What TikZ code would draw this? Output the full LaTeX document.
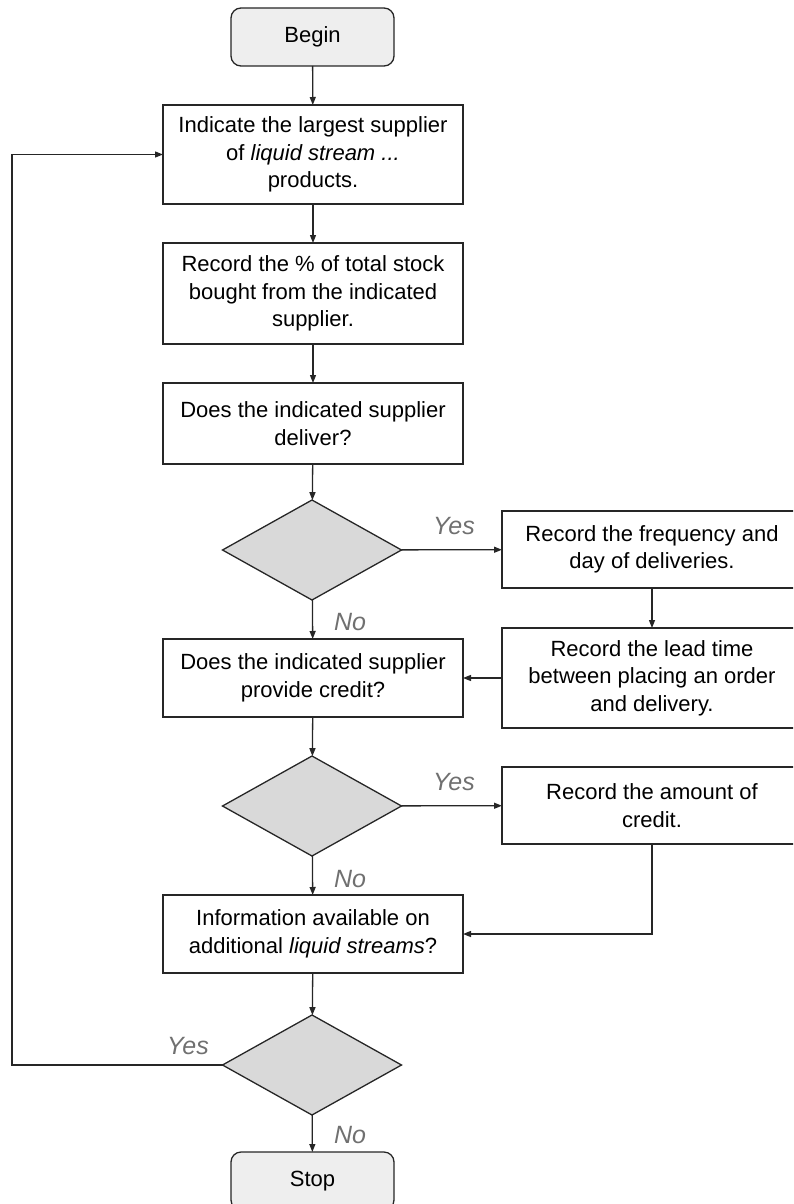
\documentclass[tikz,border=0pt]{standalone}
\usepackage{fontspec}
\setmainfont{Liberation Sans}
\usetikzlibrary{shapes.geometric,arrows.meta}
\definecolor{termfill}{HTML}{EEEEEE}
\definecolor{decfill}{HTML}{D9D9D9}
\definecolor{labelgray}{HTML}{707070}
\begin{document}
\begin{tikzpicture}[x=1pt,y=-1pt,
  font=\fontsize{22}{27.5}\selectfont,
  every node/.style={inner sep=0pt, outer sep=0pt},
  flow/.style={line width=1.3pt, draw=black!85},
  arr/.style={flow, -{Triangle[length=8pt,width=6pt]}},
  terminal/.style={draw=black!85, line width=1.3pt, fill=termfill, rounded corners=10pt,
    minimum width=163pt, minimum height=58pt, align=center},
  stepbox/.style={draw=black!85, line width=1.3pt, fill=white,
    minimum width=300pt, align=center},
  decision/.style={diamond, draw=black!85, line width=1.3pt, fill=decfill,
    minimum width=179pt, minimum height=100pt, aspect=1.79},
  answer/.style={anchor=base, text=labelgray, font=\fontsize{25}{30}\selectfont\itshape},
]
\useasboundingbox (0,0) rectangle (793,1204);
\clip (0,0) rectangle (793,1204);

% main column
\node[terminal] (begin) at (312.5,37) {Begin};
\node[stepbox, minimum height=99pt] (b1) at (313,154.5)
  {Indicate the largest supplier\\ of \textit{liquid stream ...}\\ products.};
\node[stepbox, minimum height=101pt] (b2) at (313,293.5)
  {Record the \% of total stock\\ bought from the indicated\\ supplier.};
\node[stepbox, minimum height=81pt] (b3) at (313,423.5)
  {Does the indicated supplier\\ deliver?};
\node[decision] (d1) at (312,550) {};
\node[stepbox, minimum height=78pt] (b4) at (313,678)
  {Does the indicated supplier\\ provide credit?};
\node[decision] (d2) at (312,806) {};
\node[stepbox, minimum height=78pt] (b5) at (313,934)
  {Information available on\\ additional \textit{liquid streams}?};
\node[decision] (d3) at (312,1065) {};
\node[terminal] (stop) at (312.5,1181) {Stop};

% side column
\node[stepbox, minimum height=77pt] (r1) at (652,549.5)
  {Record the frequency and\\ day of deliveries.};
\node[stepbox, minimum height=100pt] (r2) at (652,678)
  {Record the lead time\\ between placing an order\\ and delivery.};
\node[stepbox, minimum height=77pt] (r3) at (652,805.5)
  {Record the amount of\\ credit.};

\coordinate (loop) at (12,1065);

% connectors
\draw[arr] (begin) -- (b1);
\draw[arr] (b1) -- (b2);
\draw[arr] (b2) -- (b3);
\draw[arr] (b3) -- (d1);
\draw[arr] (d1) -- (r1);
\draw[arr] (d1) -- (b4);
\draw[arr] (r1) -- (r2);
\draw[arr] (r2) -- (b4);
\draw[arr] (b4) -- (d2);
\draw[arr] (d2) -- (r3);
\draw[arr] (d2) -- (b5);
\draw[arr] (r3.south) |- (b5.east);
\draw[arr] (b5) -- (d3);
\draw[arr] (d3) -- (stop);
\draw[arr] (d3.west) -- (loop) |- (b1.west);

% branch labels (placed by baseline)
\node[answer] (y1) at (454,534) {Yes};
\node[answer] (n1) at (350,630) {No};
\node[answer] (y2) at (454,790) {Yes};
\node[answer] (n2) at (350,887) {No};
\node[answer] (y3) at (188,1054) {Yes};
\node[answer] (n3) at (350,1143) {No};
\end{tikzpicture}
\end{document}
